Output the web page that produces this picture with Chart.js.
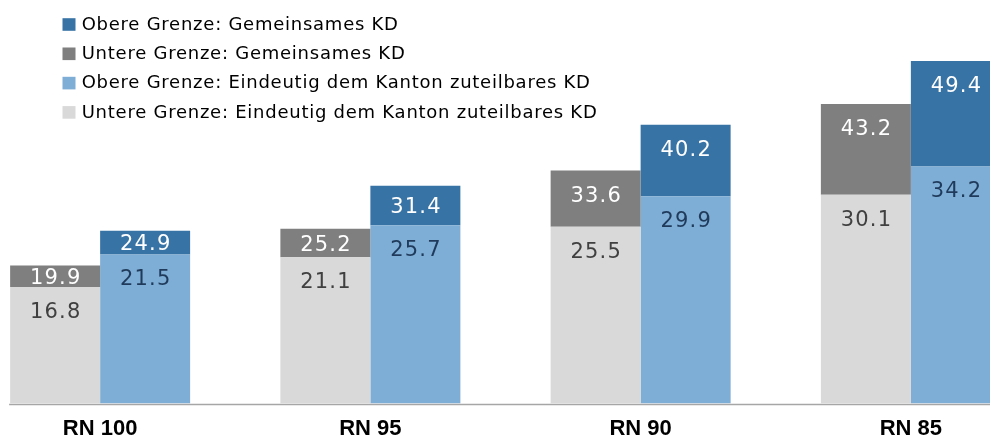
<!DOCTYPE html>
<html>
<head>
<meta charset="utf-8">
<script src="https://cdn.jsdelivr.net/npm/chart.js@4"></script>
<style>
  html, body { margin: 0; padding: 0; background: #ffffff; overflow: hidden; width: 990px; height: 436px; }
  #wrap { position: absolute; left: -35px; top: 0; width: 1081px; height: 436px; }
</style>
</head>
<body>
<div id="wrap"><canvas id="c"></canvas></div>
<script>
// ---- data ----
const categories = ['RN 100', 'RN 95', 'RN 90', 'RN 85'];
const lowerUnique = [16.8, 21.1, 25.5, 30.1];   // Untere Grenze: Eindeutig dem Kanton zuteilbares KD
const lowerTotal  = [19.9, 25.2, 33.6, 43.2];   // Untere Grenze incl. Gemeinsames KD
const upperUnique = [21.5, 25.7, 29.9, 34.2];   // Obere Grenze: Eindeutig dem Kanton zuteilbares KD
const upperTotal  = [24.9, 31.4, 40.2, 49.4];   // Obere Grenze incl. Gemeinsames KD
const seriesNames = [
  'Untere Grenze: Eindeutig dem Kanton zuteilbares KD',
  'Untere Grenze: Gemeinsames KD',
  'Obere Grenze: Eindeutig dem Kanton zuteilbares KD',
  'Obere Grenze: Gemeinsames KD'
];

// shared segments (stacked on top of the unique part)
const lowerShared = lowerTotal.map((t, i) => +(t - lowerUnique[i]).toFixed(1));
const upperShared = upperTotal.map((t, i) => +(t - upperUnique[i]).toFixed(1));

const colors = ['#d9d9d9', '#7f7f7f', '#7eadd5', '#3873a6'];
const labelColors = ['#404040', '#ffffff', '#1f3a5a', '#ffffff'];
const shownLabels = [lowerUnique, lowerTotal, upperUnique, upperTotal];

const FONT = '"Liberation Sans", Arial, sans-serif';
const FONT2 = '"DejaVu Sans", Verdana, sans-serif';

const barLabels = {
  id: 'barLabels',
  afterDatasetsDraw(chart) {
    const ctx = chart.ctx;
    ctx.save();
    ctx.font = '21px ' + FONT2;
    ctx.textAlign = 'center';
    ctx.textBaseline = 'middle';
    const ls = 1.2;
    ctx.letterSpacing = ls + 'px';
    chart.data.datasets.forEach((ds, d) => {
      const meta = chart.getDatasetMeta(d);
      meta.data.forEach((bar, i) => {
        const top = Math.min(bar.y, bar.base);
        const h = Math.abs(bar.base - bar.y);
        const cy = top + Math.min(25.5, h / 2 + 2.3);
        ctx.fillStyle = labelColors[d];
        ctx.fillText(shownLabels[d][i].toFixed(1), bar.x + ls / 2, cy);
      });
    });
    ctx.restore();
  }
};

const axisLine = {
  id: 'axisLine',
  afterDatasetsDraw(chart) {
    const ctx = chart.ctx;
    const first = chart.getDatasetMeta(0).data[0];
    const y = chart.scales.y.getPixelForValue(0) + 1;
    ctx.save();
    ctx.strokeStyle = '#a6a6a6';
    ctx.lineWidth = 1.5;
    ctx.beginPath();
    ctx.moveTo(first.x - first.width / 2 - 1, y);
    ctx.lineTo(chart.width, y);
    ctx.stroke();
    ctx.restore();
  }
};

const customLegend = {
  id: 'customLegend',
  afterDraw(chart) {
    const ctx = chart.ctx;
    const offX = 35; // canvas is shifted 35px to the left
    const order = [3, 1, 2, 0];
    ctx.save();
    ctx.font = '18px ' + FONT2;
    ctx.textAlign = 'left';
    ctx.textBaseline = 'middle';
    ctx.letterSpacing = '0.75px';
    order.forEach((d, r) => {
      const cy = 24.5 + r * 29.3;
      ctx.fillStyle = colors[d];
      ctx.fillRect(offX + 62.5, cy - 6.3, 13, 12.6);
      ctx.fillStyle = '#000000';
      ctx.fillText(chart.data.datasets[d].label, offX + 81.7, cy + 0.5);
    });
    ctx.restore();
  }
};

new Chart(document.getElementById('c'), {
  type: 'bar',
  data: {
    labels: categories,
    datasets: [
      { label: seriesNames[0], data: lowerUnique, backgroundColor: colors[0], stack: 'lower' },
      { label: seriesNames[1], data: lowerShared, backgroundColor: colors[1], stack: 'lower' },
      { label: seriesNames[2], data: upperUnique, backgroundColor: colors[2], stack: 'upper' },
      { label: seriesNames[3], data: upperShared, backgroundColor: colors[3], stack: 'upper' }
    ]
  },
  options: {
    responsive: true,
    maintainAspectRatio: false,
    animation: false,
    devicePixelRatio: 1,
    layout: { padding: 0 },
    datasets: { bar: { categoryPercentage: 0.666, barPercentage: 1.0, borderWidth: 0 } },
    plugins: {
      legend: { display: false },
      tooltip: { enabled: false },
      title: { display: false }
    },
    scales: {
      x: {
        stacked: true,
        grid: { display: false, drawTicks: false },
        border: { display: false },
        ticks: {
          color: '#000000',
          padding: 12,
          font: { family: FONT, size: 22, weight: 'bold' }
        },
        afterFit(scale) { scale.height = 32.5; }
      },
      y: {
        stacked: true,
        display: false,
        min: 0,
        max: 58.2
      }
    }
  },
  plugins: [barLabels, axisLine, customLegend]
});
</script>
</body>
</html>
